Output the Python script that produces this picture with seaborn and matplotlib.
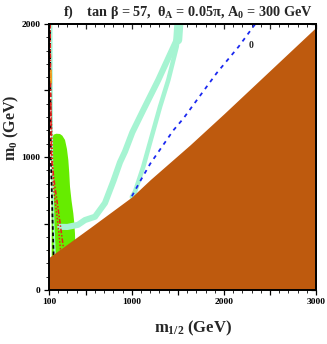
import numpy as np
import seaborn as sns
import matplotlib
matplotlib.use("Agg")
from matplotlib import pyplot as plt
from matplotlib.ticker import FixedLocator, MultipleLocator

# brown excluded region: upper edge m0(m_1/2)
edge_m12 = [100, 545, 1000, 1200, 1630, 2000, 2500, 3000]
edge_m0 = [245, 468, 700, 830, 1090, 1325, 1650, 1975]

# bright green region outline
green_m12 = [129, 129, 135, 150, 180, 219, 245, 274, 295, 310, 320, 328, 345, 364, 375, 382, 386, 386]
green_m0 = [0, 1080, 1140, 1168, 1175, 1173, 1160, 1128, 1060, 977, 880, 777, 670, 577, 500, 427, 330, 0]

# light green (relic density) bands
band_left_m12 = [222, 300, 415, 491, 600, 708, 800, 871, 925, 1005, 1124, 1287, 1420, 1500]
band_left_m0 = [475, 474, 490, 526, 551, 654, 820, 960, 1040, 1185, 1353, 1579, 1780, 1900]
band_right_m12 = [1000, 1034, 1124, 1215, 1306, 1396, 1487, 1500]
band_right_m0 = [700, 739, 927, 1153, 1378, 1579, 1830, 1900]
band_top_m12 = [1498, 1505, 1510]
band_top_m0 = [1880, 1950, 2000]
strip_m12 = [128, 135, 150, 165]
strip_m0 = [2000, 1000, 500, 250]

# lines near the left edge
black_m12 = [110, 120, 140, 150]
black_m0 = [2000, 1000, 500, 260]
red1_m12 = [112, 125, 160, 201, 255]
red1_m0 = [2000, 1000, 800, 600, 325]
red2_m12 = [120, 147, 201, 225]
red2_m0 = [1400, 777, 476, 300]
orange_m12 = [121, 123]
orange_m0 = [1650, 1560]

# blue dashed contour labelled 0
blue_m12 = [1000, 1100, 1200, 1450, 1560, 1920, 2160, 2340]
blue_m0 = [705, 830, 950, 1200, 1290, 1630, 1830, 2000]

brown = "#BE5A0E"
green = "#66EC00"
aqua = "#A6F4D2"

sns.set_theme(style="ticks")
plt.rcParams["font.family"] = ["Liberation Serif", "DejaVu Serif"]
plt.rcParams["font.weight"] = "bold"
plt.rcParams["mathtext.fontset"] = "custom"
plt.rcParams["mathtext.rm"] = "Liberation Serif:bold"
plt.rcParams["mathtext.it"] = "Liberation Serif:bold"
plt.rcParams["mathtext.bf"] = "Liberation Serif:bold"

fig = plt.figure(figsize=(3.27, 3.44), dpi=100)
ax = fig.add_axes([49 / 327, 54 / 344, 267 / 327, 266 / 344])

ax.fill(green_m12, green_m0, color=green, lw=0, zorder=1)

sns.lineplot(x=band_left_m12, y=band_left_m0, sort=False, estimator=None,
             color=aqua, linewidth=4.4, ax=ax, zorder=2)
sns.lineplot(x=band_right_m12, y=band_right_m0, sort=False, estimator=None,
             color=aqua, linewidth=3.3, ax=ax, zorder=2)
sns.lineplot(x=band_top_m12, y=band_top_m0, sort=False, estimator=None,
             color=aqua, linewidth=6.5, ax=ax, zorder=2)
sns.lineplot(x=strip_m12, y=strip_m0, sort=False, estimator=None,
             color=aqua, linewidth=1.3, ax=ax, zorder=2)

sns.lineplot(x=black_m12, y=black_m0, sort=False, estimator=None,
             color="black", linewidth=1.3, ax=ax, zorder=3)
ax.lines[-1].set_dashes([2, 1.5])
sns.lineplot(x=red1_m12, y=red1_m0, sort=False, estimator=None,
             color="#E8201A", linewidth=1.1, ax=ax, zorder=3)
ax.lines[-1].set_dashes([3, 1.2, 1, 1.2])
sns.lineplot(x=red2_m12, y=red2_m0, sort=False, estimator=None,
             color="#E8201A", linewidth=1.1, ax=ax, zorder=3)
ax.lines[-1].set_dashes([1, 1.2])
sns.lineplot(x=orange_m12, y=orange_m0, sort=False, estimator=None,
             color="#F0A020", linewidth=1.3, ax=ax, zorder=3)

ax.fill_between(edge_m12, 0, edge_m0, color=brown, lw=0, zorder=4)

sns.lineplot(x=blue_m12, y=blue_m0, sort=False, estimator=None,
             color="#1A28F0", linewidth=1.3, ax=ax, zorder=5)
ax.lines[-1].set_dashes([2.2, 2.6])
ax.text(2290, 1836, "0", fontsize=7, fontweight="bold", ha="center", va="center")

ax.set_xlim(100, 3000)
ax.set_ylim(0, 2000)
ax.set_xlabel("")
ax.set_ylabel("")

xt = [100, 500, 1000, 1500, 2000, 2500, 3000]
yt = [0, 500, 1000, 1500, 2000]
ax.xaxis.set_major_locator(FixedLocator(xt))
ax.set_xticklabels(["100", "", "1000", "", "2000", "", "3000"])
ax.yaxis.set_major_locator(FixedLocator(yt))
ax.set_yticklabels(["0", "", "1000", "", "2000"])
ax.xaxis.set_minor_locator(MultipleLocator(100))
ax.yaxis.set_minor_locator(MultipleLocator(100))
ax.tick_params(which="major", direction="out", length=3.5, width=0.9,
               labelsize=6.8, pad=2.5, colors="black")
ax.tick_params(which="minor", direction="out", length=2, width=0.7)

secx = ax.secondary_xaxis("top")
secx.xaxis.set_major_locator(FixedLocator(xt))
secx.xaxis.set_minor_locator(MultipleLocator(100))
secx.tick_params(which="major", direction="in", length=3.5, width=0.9, labeltop=False)
secx.tick_params(which="minor", direction="in", length=2, width=0.7)
secy = ax.secondary_yaxis("right")
secy.yaxis.set_major_locator(FixedLocator(yt))
secy.yaxis.set_minor_locator(MultipleLocator(100))
secy.tick_params(which="major", direction="in", length=3.5, width=0.9, labelright=False)
secy.tick_params(which="minor", direction="in", length=2, width=0.7)

for s in ax.spines.values():
    s.set_linewidth(1.4)
    s.set_color("black")
    s.set_zorder(10)
secx.spines["top"].set_linewidth(1.4)
secy.spines["right"].set_linewidth(1.4)

fig.text(63 / 327, 1 - 12 / 344,
         r"f)    tan $\beta$ = 57,  $\theta_{\rm A}$ = 0.05$\pi$, A$_{\rm 0}$ = 300 GeV",
         fontsize=10.3, fontweight="bold", ha="left", va="center")
fig.text(193 / 327, 1 - 328 / 344, r"m$_{\rm 1/2}$ (GeV)",
         fontsize=12, fontweight="bold", ha="center", va="center")
fig.text(11 / 327, 1 - 128 / 344, r"m$_{\rm 0}$ (GeV)", rotation=90,
         fontsize=11.5, fontweight="bold", ha="center", va="center")

fig.savefig("out.png", dpi=100)
